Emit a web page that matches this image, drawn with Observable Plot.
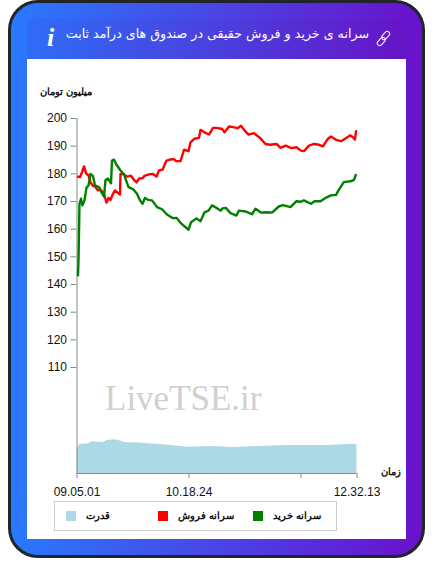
<!DOCTYPE html>
<html lang="fa">
<head>
<meta charset="utf-8">
<script src="https://cdn.jsdelivr.net/npm/d3@7"></script>
<script src="https://cdn.jsdelivr.net/npm/@observablehq/plot@0.6"></script>
<style>
html,body{margin:0;padding:0;background:#fff;width:433px;height:574px;overflow:hidden}
#card{position:absolute;left:8px;top:0;width:411px;height:552px;border:3px solid #212529;border-radius:30px;background:linear-gradient(to right,#2979ff,#6a11cb)}
#head{position:absolute;left:27px;top:19px;width:379px;height:40px;background:linear-gradient(to right,#2f6cf6,#6614c6)}
#panel{position:absolute;left:27px;top:59px;width:379px;height:480px;background:#fff}
#panel svg.plot{position:absolute;left:0;top:0;overflow:visible}
.t{position:absolute;white-space:nowrap;line-height:1}
#title{right:64px;top:26px;color:#fff;font:12.65px "DejaVu Sans";direction:rtl}
#info{left:47px;top:23px;color:#fff;font:italic bold 26px "Liberation Serif"}
#link{position:absolute;left:375px;top:30px}
.fa{font:bold 10.2px "Liberation Sans",sans-serif;color:#111;direction:rtl}
#wm{left:105px;top:379px;font:35px "Liberation Serif";color:#d2cfcf;direction:ltr}
#legend{position:absolute;left:54px;top:501px;width:281px;height:28px;border:1px solid #ccc}
.sw{position:absolute;top:511px;width:10px;height:10px}
</style>
</head>
<body>
<div id="card"></div>
<div id="head"></div>
<div id="panel"></div>
<div class="t" id="title">سرانه ی خرید و فروش حقیقی در صندوق های درآمد ثابت</div>
<div class="t" id="info">i</div>
<svg id="link" width="17" height="17" viewBox="0 0 17 17" fill="none" stroke="#fff" stroke-width="1"><rect x="8.3" y="0.8" width="4.8" height="9.5" rx="2.4" transform="rotate(42 10.7 5.5)"/><rect x="3.8" y="6.7" width="4.8" height="9.5" rx="2.4" transform="rotate(42 6.2 11.5)"/></svg>
<div class="t fa" style="left:40px;top:86px">میلیون تومان</div>
<div class="t fa" style="left:381px;top:466px">زمان</div>
<div class="t" id="wm">LiveTSE.ir</div>
<div id="legend"></div>
<div class="sw" style="left:66px;background:#add8e6"></div>
<div class="t fa" style="left:86px;top:510px">قدرت</div>
<div class="sw" style="left:158px;background:#f00"></div>
<div class="t fa" style="left:178px;top:510px">سرانه فروش</div>
<div class="sw" style="left:253px;background:#008000"></div>
<div class="t fa" style="left:273px;top:510px">سرانه خرید</div>
<script>
const yTicks = [110,120,130,140,150,160,170,180,190,200];
const xTicks = [0,112,224,280];
const xLabels = {0:"09.05.01",112:"10.18.24",224:"",280:"12.32.13"};

const sellX = [1,3,5,7,9,11.5,13.5,15.5,18,21,24,27,29.5,31.5,33.5,36,38,40,43,43.5,47,50,54,57,59.5,62,65.5,67.5,72,75.5,79.5,82,85.5,89.5,93.5,97,99,103.5,107,111.5,113.5,117.5,122,123.5,127.5,132,136,139.5,144,145,147.5,152,156,160.5,164,167.5,171.5,177,183,188.5,193,199.5,203.5,208.5,214.5,219.5,224,227,232,237,242,246,251,254,259,264,268,273,276,278,279];
const sellY = [179,178.8,180.6,182.7,180.2,179.4,177,175.8,175.4,174,174.2,172.8,169.6,171.3,170.6,172.8,174,173.4,172.5,180,179.8,179,179.3,177.8,176.9,178.3,178.4,179.3,179.8,180,179,181.2,181.5,184.8,185.2,185.3,184.6,184.6,188.7,188.2,191.4,192.7,193,195.9,195,194.2,196.6,196.6,196.3,196.3,195,197.1,196.9,196.5,197.4,195.7,194.2,194.7,193,190.8,190.5,190.8,189.4,190.2,189.3,189.6,188.4,188.2,190.2,190.8,190.5,189.9,192.7,193.5,192.3,191.8,192.7,193.9,193.2,192.4,195.4];
const buyX = [1,1.5,2.5,4,5.5,7.5,9.5,11.5,13.5,16,18,22,25,27,28.5,31,34,35,37,39.5,43.5,47,51.5,56,60,63,65.5,68,71,75,80,85,90,95.5,99.5,103.5,111.5,114,119.5,123.5,127.5,131.5,135,140,143.5,145.5,148.8,153.5,159.5,161.8,168.5,175,178.5,184,190,195,201.8,206,213.5,219.5,223.5,226.8,234,237.5,243.5,248.5,254,259,261.8,266.8,273.5,277,278.8];
const buyY = [143.3,148.7,169.2,171,168.6,170.4,175,175.8,180,179.2,175.8,175.2,173,171.8,177.8,178.3,176.6,184.8,185.1,183.3,181.2,179.8,175.2,174.5,172.8,170.4,169.2,171.3,170.6,170.4,168,167.2,165.3,164,164.1,162.3,159.8,162.5,163.9,162.9,166.1,166.7,168.6,167.6,166.7,167.5,167.7,165.8,164.9,166.7,166.4,165.4,167.4,166,166.1,166,168.2,168.7,168,170.1,169.9,170.4,169.2,170.1,170.1,171.3,172.2,172.4,174.2,177,177.3,177.8,179.6];
const powerX = [0,3,10.5,15,26.5,30,38.5,44,46.5,61.5,86.5,110,133.5,156.5,183.5,210,250,276.5,280];
const powerY = [80.6,82.2,82.4,83.2,82.9,83.6,83.9,83.4,82.9,82.7,82.1,81.2,81.5,81.1,81.5,81.8,81.8,82.3,82.1];

const sell = sellX.map((x, i) => ({x, y: sellY[i]}));
const buy = buyX.map((x, i) => ({x, y: buyY[i]}));
const power = powerX.map((x, i) => ({x, y: powerY[i]}));
const base = 71.7;

const chart = Plot.plot({
  width: 379, height: 442,
  marginTop: 59, marginBottom: 28, marginLeft: 49.5, marginRight: 49.5,
  style: {background: "transparent", fontFamily: "Liberation Sans", fontSize: "12px", color: "#111"},
  x: {domain: [0, 280]},
  y: {domain: [base, 200]},
  marks: [
    Plot.areaY(power, {x: "x", y1: base, y2: "y", fill: "#add8e6"}),
    Plot.axisY({ticks: yTicks, tickSize: 6, tickPadding: 4, stroke: "#888", fill: "#111", label: null, fontSize: 12, tickFormat: d => d}),
    Plot.axisX({ticks: xTicks, tickSize: 5, tickPadding: 9, stroke: "#888", fill: "#111", label: null, fontSize: 12, tickFormat: d => xLabels[d]}),
    Plot.ruleX([0], {y1: base, y2: 200, stroke: "#888", strokeWidth: 1}),
    Plot.ruleY([base], {x1: 0, x2: 280, stroke: "#888", strokeWidth: 1}),
    Plot.line(sell, {x: "x", y: "y", stroke: "#f00", strokeWidth: 2.4}),
    Plot.line(buy, {x: "x", y: "y", stroke: "#008000", strokeWidth: 2.4})
  ]
});
document.getElementById("panel").appendChild(chart);
</script>
</body>
</html>
